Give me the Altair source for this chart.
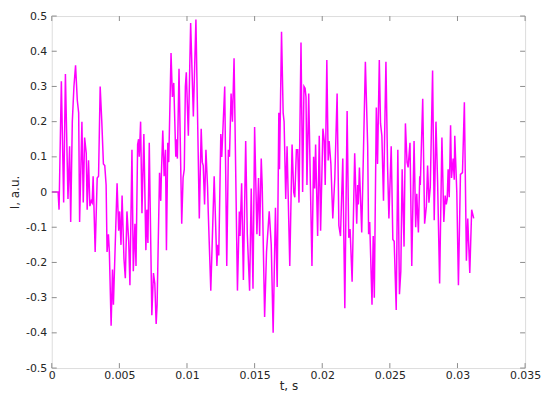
import altair as alt
import pandas as pd

t_vals = [0.0, 0.00047, 0.00054, 0.00071, 0.00088, 0.00101, 0.00120, 0.00132, 0.00140, 0.00152,
          0.00164, 0.00176, 0.00189, 0.00199, 0.00206, 0.00223, 0.00233, 0.00243, 0.00255, 0.00262,
          0.00272, 0.00282, 0.00292, 0.00299, 0.00306, 0.00321, 0.00336, 0.00346, 0.00358, 0.00370,
          0.00382, 0.00392, 0.00402, 0.00409, 0.00419, 0.00426, 0.00439, 0.00449, 0.00456, 0.00483,
          0.00495, 0.00502, 0.00512, 0.00520, 0.00534, 0.00544, 0.00556, 0.00569, 0.00578, 0.00593,
          0.00603, 0.00615, 0.00623, 0.00635, 0.00642, 0.00647, 0.00657, 0.00667, 0.00681, 0.00696,
          0.00703, 0.00711, 0.00721, 0.00740, 0.00752, 0.00762, 0.00772,
          0.00779, 0.00797, 0.00806, 0.00811, 0.00821, 0.00831, 0.00841, 0.00848, 0.00858, 0.00865,
          0.00882, 0.00892, 0.00902, 0.00917, 0.00922, 0.00929, 0.00941, 0.00961, 0.00971, 0.00980,
          0.00988, 0.00995, 0.01010, 0.01027, 0.01047, 0.01066, 0.01091, 0.01105, 0.01113, 0.01120,
          0.01130, 0.01140, 0.01152, 0.01157, 0.01176, 0.01201, 0.01221, 0.01228, 0.01235, 0.01250,
          0.01257, 0.01279, 0.01294, 0.01306, 0.01314, 0.01326, 0.01336, 0.01348, 0.01373, 0.01387,
          0.01392, 0.01404, 0.01417, 0.01434, 0.01446, 0.01463, 0.01475, 0.01488, 0.01500, 0.01517,
          0.01529, 0.01537, 0.01549,
          0.01556, 0.01574, 0.01588, 0.01608, 0.01623, 0.01637, 0.01654, 0.01667, 0.01679, 0.01684,
          0.01699, 0.01711, 0.01718, 0.01730, 0.01740, 0.01760, 0.01777, 0.01789, 0.01797, 0.01809,
          0.01819, 0.01828, 0.01843, 0.01855, 0.01865, 0.01873, 0.01880, 0.01887, 0.01900, 0.01912,
          0.01924, 0.01936, 0.01944, 0.01951, 0.01966, 0.01978, 0.01988, 0.02005, 0.02015, 0.02022,
          0.02034, 0.02044, 0.02051, 0.02064, 0.02078, 0.02093, 0.02110, 0.02123, 0.02135, 0.02152,
          0.02167, 0.02184, 0.02196, 0.02206, 0.02221, 0.02240, 0.02255, 0.02262, 0.02267, 0.02275,
          0.02292, 0.02319,
          0.02336, 0.02343, 0.02351, 0.02368, 0.02377, 0.02385, 0.02400, 0.02409, 0.02422, 0.02431,
          0.02441, 0.02453, 0.02471, 0.02483, 0.02493, 0.02510, 0.02522, 0.02532, 0.02547, 0.02559,
          0.02571, 0.02581, 0.02591, 0.02605, 0.02615, 0.02627, 0.02635, 0.02642, 0.02649, 0.02662,
          0.02679, 0.02691, 0.02699, 0.02711, 0.02721, 0.02725, 0.02743, 0.02757, 0.02770, 0.02779,
          0.02789, 0.02799, 0.02816, 0.02828, 0.02841, 0.02853, 0.02868, 0.02885, 0.02899, 0.02909,
          0.02917, 0.02924, 0.02931, 0.02939, 0.02949, 0.02956, 0.02968, 0.02976, 0.02980, 0.02995,
          0.03007, 0.03022, 0.03037, 0.03051, 0.03066, 0.03076, 0.03091, 0.03105, 0.03120]

i_vals = [0.0, 0.0, -0.05, 0.315, -0.03, 0.335, -0.02, 0.13, -0.085, 0.2,
          0.30, 0.36, 0.26, 0.225, -0.085, 0.2, -0.03, 0.155, 0.11, -0.05,
          0.09, -0.04, -0.025, -0.03, 0.045, -0.17, 0.04, 0.045, 0.30, 0.2,
          0.08, 0.075, 0.02, -0.17, -0.12, -0.17, -0.38, -0.22, -0.32, 0.025,
          -0.11, -0.055, -0.15, -0.01, -0.19, -0.245, -0.055, -0.14, -0.265, 0.12,
          -0.225, -0.09, -0.21, 0.135, 0.15, 0.10, 0.2, -0.06, 0.165, -0.165,
          -0.05, -0.145, 0.14, -0.35, -0.23, -0.26, -0.375,
          -0.32, 0.055, -0.025, 0.055, 0.175, 0.045, 0.12, -0.165, 0.14, 0.085,
          0.395, 0.27, 0.31, 0.1, 0.15, 0.095, 0.35, -0.09, 0.04, 0.065,
          0.30, 0.34, 0.16, 0.48, 0.215, 0.49, -0.075, 0.18, 0.085, 0.075,
          -0.035, 0.12, 0.015, -0.055, -0.28, 0.045, -0.21, -0.15, -0.18, 0.165,
          0.1, 0.30, -0.21, 0.12, 0.10, 0.28, 0.2, 0.38, -0.28, -0.055,
          -0.125, 0.025, -0.25, 0.145, -0.12, -0.28, 0.01, -0.275, 0.185, -0.12,
          0.04, -0.125, 0.095,
          0.02, -0.355, -0.17, -0.055, -0.15, -0.40, -0.045, -0.27, 0.225, 0.065,
          0.455, 0.225, 0.2, -0.02, 0.13, -0.21, 0.135, 0.0, -0.015, 0.12,
          0.12, -0.03, 0.425, 0.0, 0.30, 0.295, 0.27, 0.02, 0.28, 0.03,
          -0.21, 0.1, 0.01, 0.135, -0.125, 0.16, -0.11, 0.18, 0.145, 0.02,
          0.375, 0.09, 0.145, 0.08, -0.075, 0.04, 0.28, -0.095, -0.125, 0.095,
          -0.33, 0.23, -0.13, -0.105, -0.255, 0.11, -0.09, 0.02, -0.035, 0.07,
          -0.115, 0.37,
          0.13, -0.12, -0.085, -0.32, -0.125, -0.30, 0.24, 0.08, 0.375, 0.195,
          0.16, -0.025, 0.37, 0.075, -0.075, 0.13, -0.135, -0.14, -0.335, 0.12,
          -0.29, -0.225, 0.065, -0.155, 0.195, 0.085, 0.07, 0.105, 0.14, -0.21,
          0.145, -0.1, -0.005, -0.115, 0.045, 0.02, 0.265, -0.09, -0.04, 0.075,
          -0.03, 0.015, 0.345, -0.08, 0.2, 0.03, -0.26, 0.155, -0.085, -0.01,
          -0.035, -0.02, 0.065, -0.015, 0.19, 0.04, 0.095, 0.035, 0.16, 0.0,
          -0.265, 0.05, 0.055, 0.255, -0.195, -0.075, -0.23, -0.05, -0.075]

x_ticks = [0, 0.005, 0.01, 0.015, 0.02, 0.025, 0.03, 0.035]
y_ticks = [-0.5, -0.4, -0.3, -0.2, -0.1, 0, 0.1, 0.2, 0.3, 0.4, 0.5]

W, H = 476, 354
FONT = "DejaVu Sans"
FS = 11
TXT = "#262626"
FRAME = "#8c8c8c"

df = pd.DataFrame({"t": t_vals, "I": i_vals})
xt = pd.DataFrame({"t": x_ticks})
yt = pd.DataFrame({"I": y_ticks})

xs = alt.Scale(domain=[0, 0.035], nice=False, zero=False)
ys = alt.Scale(domain=[-0.5, 0.5], nice=False, zero=False)
lab = "replace(format(datum.value, '~g'), '\u2212', '-')"

xa = alt.Axis(values=x_ticks, labelExpr=lab, ticks=False, grid=False,
              domain=False, labelPadding=2, titlePadding=0,
              labelOverlap=False, labelFlush=False,
              labelFont=FONT, labelFontSize=FS, labelColor=TXT,
              titleFont=FONT, titleFontSize=12, titleColor=TXT,
              titleFontWeight="normal")
ya = alt.Axis(values=y_ticks, labelExpr=lab, ticks=False, grid=False,
              domain=False, labelPadding=5, titlePadding=4,
              labelOverlap=False, labelFlush=False,
              labelFont=FONT, labelFontSize=FS, labelColor=TXT,
              titleFont=FONT, titleFontSize=12, titleColor=TXT,
              titleFontWeight="normal")

X = lambda: alt.X("t:Q", scale=xs, axis=xa, title="t, s")
Y = lambda: alt.Y("I:Q", scale=ys, axis=ya, title="I, a.u.")

line = alt.Chart(df).mark_line(color="#ff00ff", strokeWidth=1.5, clip=True).encode(
    x=X(), y=Y())

tk = 5
xb = alt.Chart(xt).mark_rule(color=FRAME, strokeWidth=1).encode(
    x=X(), y=alt.value(H), y2=alt.value(H - tk))
xtp = alt.Chart(xt).mark_rule(color=FRAME, strokeWidth=1).encode(
    x=X(), y=alt.value(0), y2=alt.value(tk))
yl = alt.Chart(yt).mark_rule(color=FRAME, strokeWidth=1).encode(
    y=Y(), x=alt.value(0), x2=alt.value(tk))
yr = alt.Chart(yt).mark_rule(color=FRAME, strokeWidth=1).encode(
    y=Y(), x=alt.value(W), x2=alt.value(W - tk))

chart = alt.layer(line, xb, xtp, yl, yr).properties(
    width=W, height=H,
    autosize=alt.AutoSizeParams(type="none"),
    padding={"left": 44, "top": 7, "right": 17, "bottom": 24},
).configure_view(stroke=FRAME, strokeWidth=1).configure_axis(
    labelOverlap=False
).configure(background="white")

chart.save("out.html", embed_options={"renderer": "svg", "actions": False})
